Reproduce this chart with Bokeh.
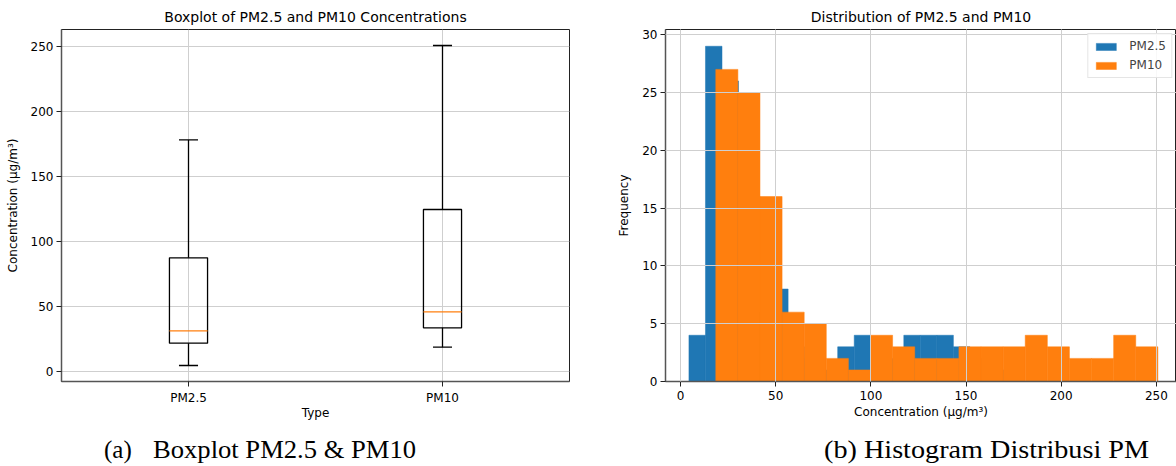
import numpy as np
from bokeh.plotting import figure
from bokeh.layouts import column, row
from bokeh.models import Range1d, FixedTicker, Div
from bokeh.embed import file_html
from bokeh.resources import INLINE

# ---------------- data ----------------
types = ["PM2.5", "PM10"]
box_low = [4.4, 18.5]
box_q1 = [21.6, 33.4]
box_median = [31.1, 45.7]
box_q3 = [87.3, 124.5]
box_high = [178.1, 250.8]

n_bins = 20
pm25_counts = [4, 29, 26, 10, 6, 8, 3, 2, 1, 3, 4, 3, 2, 4, 4, 4, 3, 2, 1, 1]
pm10_counts = [27, 25, 16, 6, 5, 2, 1, 4, 3, 2, 2, 3, 3, 3, 4, 3, 2, 2, 4, 3]

box_y_ticks = [0, 50, 100, 150, 200, 250]
hist_x_ticks = [0, 50, 100, 150, 200, 250]
hist_y_ticks = [0, 5, 10, 15, 20, 25, 30]

BLUE = "#1f77b4"
ORANGE = "#ff7f0e"
FONT = "DejaVu Sans"
GRID = "#cfcfcf"


def style(p):
    p.title.text_font = FONT
    p.title.text_font_size = "14px"
    p.title.text_font_style = "normal"
    p.title.align = "center"
    p.title.standoff = 10
    p.title.text_color = "black"
    p.outline_line_color = "#222222"
    p.outline_line_width = 1
    p.outline_line_alpha = 1
    for ax in (p.xaxis, p.yaxis):
        ax.axis_line_color = "#555555"
        ax.axis_line_width = 1.5
        ax.major_tick_out = 5
        ax.major_tick_in = 0
        ax.minor_tick_line_color = None
        ax.major_tick_line_color = "#222222"
        ax.major_label_text_font = FONT
        ax.major_label_text_font_size = "12px"
        ax.major_label_text_color = "black"
        ax.axis_label_text_font = FONT
        ax.axis_label_text_font_size = "12px"
        ax.axis_label_text_font_style = "normal"
        ax.axis_label_text_color = "black"
        ax.major_label_standoff = 3
    p.xaxis.major_label_standoff = 4
    p.xaxis.axis_label_standoff = -2
    p.yaxis.axis_label_standoff = 8
    p.grid.grid_line_color = GRID
    p.grid.grid_line_width = 1
    p.background_fill_color = "white"
    p.border_fill_color = "white"


# ---------------- boxplot ----------------
pos = np.arange(1, len(types) + 1, dtype=float)
bw = 0.15

p1 = figure(
    title="Boxplot of PM2.5 and PM10 Concentrations",
    x_range=Range1d(0.5, 2.5),
    y_range=Range1d(-7.92, 263.1),
    frame_width=508, frame_height=352,
    min_border_left=61, min_border_right=10,
    min_border_top=29, min_border_bottom=41,
    output_backend="svg", toolbar_location=None,
)
style(p1)
p1.xaxis.ticker = FixedTicker(ticks=list(pos))
p1.xaxis.major_label_overrides = {int(k): t for k, t in zip(pos, types)}
p1.yaxis.ticker = FixedTicker(ticks=box_y_ticks)
p1.xaxis.axis_label = "Type"
p1.yaxis.axis_label = "Concentration (µg/m³)"

lw = 1.3
p1.segment(x0=pos, y0=box_q3, x1=pos, y1=box_high, line_color="black", line_width=lw)
p1.segment(x0=pos, y0=box_low, x1=pos, y1=box_q1, line_color="black", line_width=lw)
p1.segment(x0=pos - bw / 4, y0=box_high, x1=pos + bw / 4, y1=box_high, line_color="black", line_width=lw)
p1.segment(x0=pos - bw / 4, y0=box_low, x1=pos + bw / 4, y1=box_low, line_color="black", line_width=lw)
p1.quad(left=pos - bw / 2, right=pos + bw / 2, bottom=box_q1, top=box_q3,
        fill_color=None, line_color="black", line_width=lw)
p1.segment(x0=pos - bw / 2, y0=box_median, x1=pos + bw / 2, y1=box_median,
           line_color=ORANGE, line_width=lw)

# ---------------- histogram ----------------
p2 = figure(
    title="Distribution of PM2.5 and PM10",
    x_range=Range1d(-7.92, 260.6),
    y_range=Range1d(0, 30.45),
    frame_width=511, frame_height=352,
    min_border_left=86, min_border_right=0,
    min_border_top=29, min_border_bottom=41,
    output_backend="svg", toolbar_location=None,
)
style(p2)
p2.xaxis.ticker = FixedTicker(ticks=hist_x_ticks)
p2.yaxis.ticker = FixedTicker(ticks=hist_y_ticks)
p2.xaxis.axis_label = "Concentration (µg/m³)"
p2.xaxis.axis_label_standoff = 2
p2.yaxis.axis_label = "Frequency"
p2.grid.level = "guide"

e25 = np.linspace(box_low[0], box_high[0], n_bins + 1)
e10 = np.linspace(box_low[1], box_high[1], n_bins + 1)
p2.quad(left=e25[:-1], right=e25[1:], bottom=0, top=pm25_counts,
        fill_color=BLUE, line_color=BLUE, line_width=0.5, legend_label="PM2.5")
p2.quad(left=e10[:-1], right=e10[1:], bottom=0, top=pm10_counts,
        fill_color=ORANGE, line_color=ORANGE, line_width=0.5, legend_label="PM10")

lg = p2.legend[0]
lg.location = "top_right"
lg.label_text_font = FONT
lg.label_text_font_size = "12px"
lg.glyph_width = 25
lg.glyph_height = 9
lg.border_line_color = "#cccccc"
lg.background_fill_alpha = 0.85
lg.padding = 5
lg.spacing = 5
lg.margin = 4
lg.label_standoff = 11

# ---------------- captions ----------------
base = ("position:absolute;top:16px;line-height:14px;white-space:nowrap;"
        "font-family:'Liberation Serif';font-size:25px;color:black;"
        "transform-origin:0 0;")
caption = Div(
    text=(
        "<div style='position:relative;width:1176px;height:44px;'>"
        f"<span style=\"{base}left:99px;transform:scaleX(1.0);\">(a)</span>"
        f"<span style=\"{base}left:148px;transform:scaleX(1.064);\">Boxplot PM2.5 &amp; PM10</span>"
        f"<span style=\"{base}left:819px;transform:scaleX(1.128);\">(b) Histogram Distribusi PM</span>"
        "</div>"
    ),
    width=1176, height=44,
)

layout = column(row(p1, p2), caption)
open("out.html", "w").write(file_html(layout, INLINE))
